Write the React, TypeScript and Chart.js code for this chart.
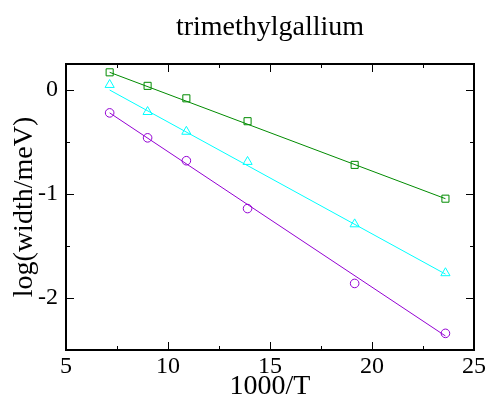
import React, { useEffect, useRef } from "react";
import { Chart, registerables } from "chart.js";

Chart.register(...registerables);

const TITLE = "trimethylgallium";
const X_LABEL = "1000/T";
const Y_LABEL = "log(width/meV)";

const xValues = [7.14, 9.0, 10.9, 13.9, 19.15, 23.6];
const greenY = [0.17, 0.04, -0.08, -0.3, -0.72, -1.045];
const cyanY = [0.05, -0.21, -0.4, -0.69, -1.29, -1.76];
const violetY = [-0.22, -0.46, -0.68, -1.14, -1.86, -2.34];

const fitX = [7.14, 23.6];
const greenFit = [0.17, -1.045];
const cyanFit = [0.0, -1.77];
const violetFit = [-0.22, -2.365];

const xMajor = [5, 10, 15, 20, 25];
const xMinor = [7.5, 12.5, 17.5, 22.5];
const yMajor = [-2, -1, 0];
const yMinor = [-1.5, -0.5];

const GREEN = "rgb(0,139,0)";
const CYAN = "rgb(0,255,255)";
const VIOLET = "rgb(148,0,211)";

const pts = (xs: number[], ys: number[]) => xs.map((x, i) => ({ x, y: ys[i] }));

const FONT = "'Liberation Serif', 'Times New Roman', serif";

const framePlugin = {
  id: "frame",
  afterDraw(chart: any) {
    const { ctx, chartArea: a, scales } = chart;
    const xs = scales.x;
    const ys = scales.y;
    ctx.save();
    ctx.strokeStyle = "#000";
    ctx.lineWidth = 1;
    const tick = (x1: number, y1: number, x2: number, y2: number) => {
      ctx.beginPath();
      ctx.moveTo(x1, y1);
      ctx.lineTo(x2, y2);
      ctx.stroke();
    };
    xMajor.forEach((v) => {
      const p = Math.round(xs.getPixelForValue(v)) + 0.5;
      tick(p, a.bottom, p, a.bottom - 8);
      tick(p, a.top, p, a.top + 8);
    });
    xMinor.forEach((v) => {
      const p = Math.round(xs.getPixelForValue(v)) + 0.5;
      tick(p, a.bottom, p, a.bottom - 4);
      tick(p, a.top, p, a.top + 4);
    });
    yMajor.forEach((v) => {
      const p = Math.round(ys.getPixelForValue(v)) + 0.5;
      tick(a.left, p, a.left + 8, p);
      tick(a.right, p, a.right - 8, p);
    });
    yMinor.forEach((v) => {
      const p = Math.round(ys.getPixelForValue(v)) + 0.5;
      tick(a.left, p, a.left + 4, p);
      tick(a.right, p, a.right - 4, p);
    });
    ctx.lineWidth = 2;
    ctx.strokeRect(a.left, a.top, a.right - a.left, a.bottom - a.top);
    ctx.restore();
  },
};

export default function App() {
  const ref = useRef<HTMLCanvasElement | null>(null);
  useEffect(() => {
    document.body.style.margin = "0";
    const canvas = ref.current!;
    const lineDs = (data: any, color: string) => ({
      data,
      showLine: true,
      borderColor: color,
      borderWidth: 1,
      pointRadius: 0,
      fill: false,
    });
    const ptDs = (data: any, color: string, style: string, r: number) => ({
      data,
      showLine: false,
      borderColor: color,
      backgroundColor: "rgba(0,0,0,0)",
      pointStyle: style,
      pointRadius: r,
      pointBorderWidth: 1,
      pointBorderColor: color,
      pointBackgroundColor: "rgba(0,0,0,0)",
    });
    const chart = new Chart(canvas, {
      type: "scatter",
      data: {
        datasets: [
          lineDs(pts(fitX, greenFit), GREEN),
          lineDs(pts(fitX, cyanFit), CYAN),
          lineDs(pts(fitX, violetFit), VIOLET),
          ptDs(pts(xValues, greenY), GREEN, "rect", 5),
          ptDs(pts(xValues, cyanY), CYAN, "triangle", 5.3),
          ptDs(pts(xValues, violetY), VIOLET, "circle", 4.3),
        ] as any,
      },
      options: {
        animation: false,
        responsive: false,
        layout: { padding: { left: 0, right: 14, top: 0, bottom: 0 } },
        plugins: {
          legend: { display: false },
          tooltip: { enabled: false },
          title: {
            display: true,
            text: TITLE,
            fullSize: false,
            color: "#000",
            font: { family: FONT, size: 28, weight: "normal" },
            padding: { top: 11, bottom: 19.4 },
          },
        },
        scales: {
          x: {
            type: "linear",
            min: 5,
            max: 25,
            afterBuildTicks: (s: any) => {
              s.ticks = xMajor.map((v) => ({ value: v }));
            },
            afterFit: (s: any) => {
              s.height = 47;
            },
            grid: { display: false, drawTicks: false },
            border: { display: false },
            ticks: {
              color: "#000",
              padding: 2,
              maxRotation: 0,
              font: { family: FONT, size: 24 },
            },
            title: {
              display: true,
              text: X_LABEL,
              color: "#000",
              font: { family: FONT, size: 28 },
              padding: { top: 0, bottom: -6 },
            },
          },
          y: {
            type: "linear",
            min: -2.5,
            max: 0.25,
            afterBuildTicks: (s: any) => {
              s.ticks = yMajor.map((v) => ({ value: v }));
            },
            afterFit: (s: any) => {
              s.width = 66;
            },
            grid: { display: false, drawTicks: false },
            border: { display: false },
            ticks: {
              color: "#000",
              padding: 8,
              font: { family: FONT, size: 24 },
            },
            title: {
              display: true,
              text: Y_LABEL,
              color: "#000",
              font: { family: FONT, size: 28 },
              padding: { top: 8, bottom: 0 },
            },
          },
        },
      },
      plugins: [framePlugin],
    } as any);
    return () => chart.destroy();
  }, []);
  return (
    <div style={{ width: 488, height: 397 }}>
      <canvas ref={ref} width={488} height={397} style={{ display: "block" }} />
    </div>
  );
}
